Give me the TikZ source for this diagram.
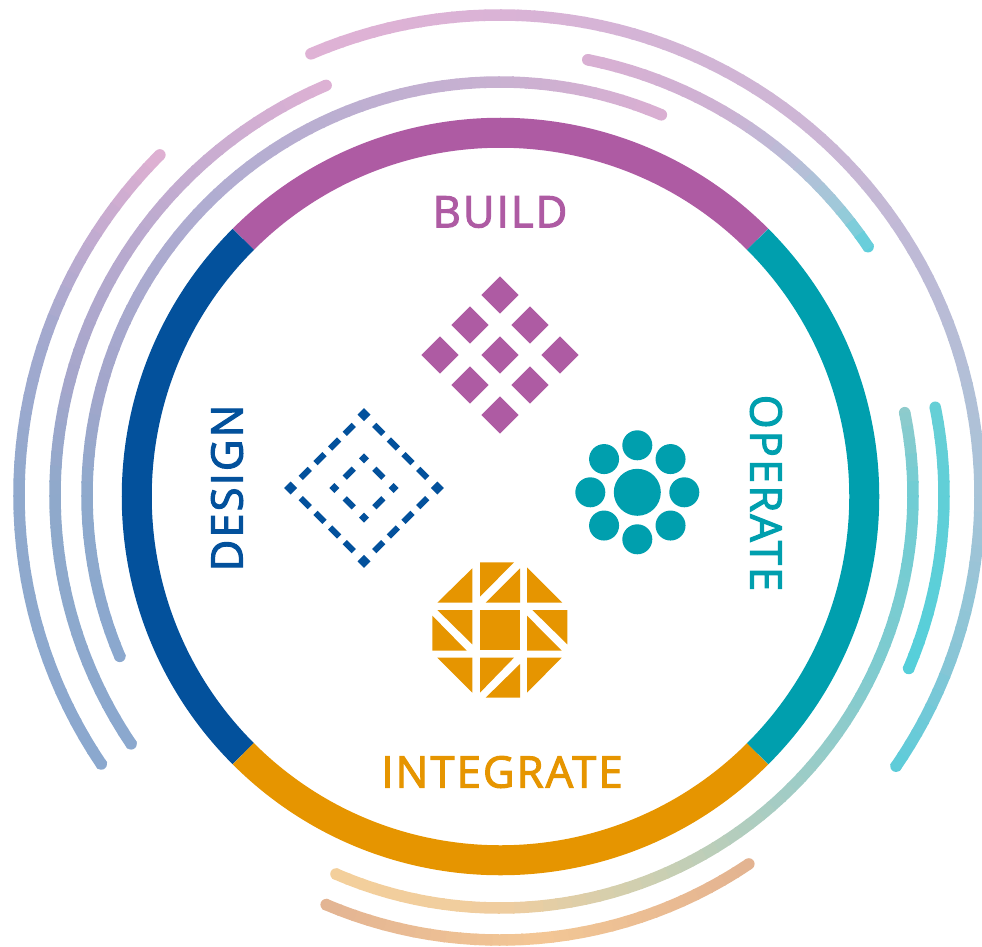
\documentclass[tikz,border=0pt]{standalone}
\usepackage{fontspec}
\newfontfamily\lblfont[FakeBold=2.5,LetterSpace=4.8]{Open Sans}
\definecolor{cbuild}{HTML}{AE5BA3}
\definecolor{cdesign}{HTML}{03519C}
\definecolor{cinteg}{HTML}{E69500}
\definecolor{coper}{HTML}{009FAE}
\newcommand{\gradseg}[5]{%
  \definecolor{gA}{HTML}{#4}\definecolor{gB}{HTML}{#5}%
  \pgfmathtruncatemacro{\nsteps}{max(1,ceil(abs(#3-#2)/2))}%
  \foreach \i in {1,...,\nsteps}{%
    \pgfmathsetmacro{\pp}{100*(\i-0.5)/\nsteps}%
    \pgfmathsetmacro{\aa}{#2+(#3-#2)*(\i-1)/\nsteps}%
    \pgfmathsetmacro{\bb}{#2+(#3-#2)*\i/\nsteps+0.25*sign(#3-#2)}%
    \colorlet{gT}{gB!\pp!gA}%
    \draw[gT,line width=11.5pt] ({500+#1*cos(\aa)},{495-#1*sin(\aa)}) arc[start angle=\aa,end angle=\bb,radius=#1pt];
  }%
}
\newcommand{\gradcap}[3]{%
  \definecolor{gA}{HTML}{#3}%
  \fill[gA] ({500+#1*cos(#2)},{495-#1*sin(#2)}) circle[radius=5.75pt];
}
\tikzset{
  ringarc/.style={line width=30pt},
  lbl/.style={inner sep=0pt,font=\lblfont\fontsize{43.5}{43.5}\selectfont},
  ddash/.style={cdesign,line width=6pt}
}
\begin{document}
\begin{tikzpicture}[x=1pt,y=-1pt]
\useasboundingbox (0,0) rectangle (982,947);
% main ring
\foreach \a/\b/\c in {45/135/cbuild,135/225/cdesign,225/315/cinteg,315/405/coper}{
  \draw[\c,ringarc] ({500.5+363.75*cos(\a)},{496.5-363.75*sin(\a)}) arc[start angle=\a,end angle=\b,radius=363.75pt];
}
% arc 1
\gradcap{480}{113.2}{DFB2D5}\gradcap{480}{-34.4}{5DCCD9}
\gradseg{480}{113.2}{90}{DFB2D5}{DAB3D6}
\gradseg{480}{90}{50}{DAB3D6}{CDB6D5}
\gradseg{480}{50}{25}{CDB6D5}{BBBBD6}
\gradseg{480}{25}{0}{BBBBD6}{A8C4D8}
\gradseg{480}{0}{-20}{A8C4D8}{88C5D6}
\gradseg{480}{-20}{-28}{88C5D6}{6ECAD8}
\gradseg{480}{-28}{-34.4}{6ECAD8}{5DCCD9}
% arc 2
\gradcap{444}{78.6}{D9B0D3}\gradcap{444}{34}{5ECFDB}
\gradseg{444}{78.6}{60}{D9B0D3}{CDB2D3}
\gradseg{444}{60}{48}{CDB2D3}{B8BDD7}
\gradseg{444}{48}{40}{B8BDD7}{9ECAD9}
\gradseg{444}{40}{34}{9ECAD9}{5ECFDB}
% arc 3
\gradcap{413}{67}{DAAFD2}\gradcap{413}{203}{8BA8CE}
\gradseg{413}{67}{90}{DAAFD2}{C9B1D1}
\gradseg{413}{90}{135}{C9B1D1}{B0ADD1}
\gradseg{413}{135}{165}{B0ADD1}{A3A6CB}
\gradseg{413}{165}{180}{A3A6CB}{8EA9CC}
\gradseg{413}{180}{203}{8EA9CC}{8BA8CE}
% arc 4
\gradcap{445}{113}{DDB1D4}\gradcap{445}{214}{8BA8CE}
\gradseg{445}{113}{135}{DDB1D4}{C4ACD0}
\gradseg{445}{135}{165}{C4ACD0}{A5A6CB}
\gradseg{445}{165}{180}{A5A6CB}{8FA9CB}
\gradseg{445}{180}{214}{8FA9CB}{8BA8CE}
% arc 5
\gradcap{481}{135}{DFB0D2}\gradcap{481}{214}{8BA8CE}
\gradseg{481}{135}{145}{DFB0D2}{C8ACD0}
\gradseg{481}{145}{160}{C8ACD0}{A4A9CE}
\gradseg{481}{160}{180}{A4A9CE}{90A9CD}
\gradseg{481}{180}{214}{90A9CD}{8BA8CE}
% arc 6
\gradcap{413}{11.5}{8ECBCC}\gradcap{413}{-113.4}{F3CF9B}
\gradseg{413}{11.5}{0}{8ECBCC}{70CDD4}
\gradseg{413}{0}{-25}{70CDD4}{7FCBCF}
\gradseg{413}{-25}{-45}{7FCBCF}{A0CCC6}
\gradseg{413}{-45}{-70}{A0CCC6}{CFCFB0}
\gradseg{413}{-70}{-90}{CFCFB0}{F0CD9F}
\gradseg{413}{-90}{-113.4}{F0CD9F}{F3CF9B}
% arc 7
\gradcap{444}{11.4}{66CFD6}\gradcap{444}{-23}{56CFDA}
\gradseg{444}{11.4}{-23}{66CFD6}{56CFDA}
% arc 8
\gradcap{445}{-56}{E3B391}\gradcap{445}{-113}{E3B493}
\gradseg{445}{-56}{-85}{E3B391}{F3C795}
\gradseg{445}{-85}{-113}{F3C795}{E3B493}
% labels
\node[lbl,text=cbuild] (build) at (500,212) {BUILD};
\node[lbl,text=cinteg] (integrate) at (502,772) {INTEGRATE};
\node[lbl,text=cdesign,rotate=90] (design) at (227,488) {DESIGN};
\node[lbl,text=coper,rotate=-90] (operate) at (766,493) {OPERATE};
% build icon
\foreach \x/\y in {500/295,470/325,530/325,440/355,500/355,560/355,470/385,530/385,500/415}{
  \fill[cbuild] (\x,\y-18.7) -- (\x+18.7,\y) -- (\x,\y+18.7) -- (\x-18.7,\y) -- cycle;
}
% operate icon
\fill[coper] (637.3,492.3) circle[radius=23.5pt];
\foreach \a in {0,45,...,315}{
  \fill[coper] ({637.3+47*cos(\a)},{492.3+47*sin(\a)}) circle[radius=15pt];
}
% design icon
\begin{scope}[shift={(364,488)}]
  \foreach \s/\t in {1/1,1/-1,-1/1,-1/-1}{
    \foreach \k in {1,2,3,4}{
      \pgfmathsetmacro{\cx}{\s*14.67*\k}
      \pgfmathsetmacro{\cy}{\t*(73.3-14.67*\k)}
      \draw[ddash] ({\cx-\s*4.5},{\cy-\t*-4.5}) -- ({\cx+\s*4.5},{\cy+\t*-4.5});
    }
    \draw[ddash] ({\s*14.8-\s*4.5},{\t*14.8+\t*4.5}) -- ({\s*14.8+\s*4.5},{\t*14.8-\t*4.5});
  }
  \foreach \x/\y in {0/-73.3,0/73.3,-73.3/0,73.3/0}{
    \fill[cdesign] (\x,\y-6.5) -- (\x+6.5,\y) -- (\x,\y+6.5) -- (\x-6.5,\y) -- cycle;
  }
  \foreach \x/\y in {0/-29.6,0/29.6,-29.6/0,29.6/0}{
    \fill[cdesign] (\x,\y-5) -- (\x+5,\y) -- (\x,\y+5) -- (\x-5,\y) -- cycle;
  }
\end{scope}
% integrate icon
\begin{scope}[shift={(420,550)},x=0.33333pt,y=-0.33333pt]
\fill[cinteg] (180,180) rectangle (300,300);
\fill[cinteg] (157,55) -- (157,158) -- (52,158) -- cycle;
\fill[cinteg] (180,37) -- (282,37) -- (180,140) -- cycle;
\fill[cinteg] (300,55) -- (300,158) -- (197,158) -- cycle;
\fill[cinteg] (321,52) -- (321,158) -- (427,158) -- cycle;
\fill[cinteg] (52,180) -- (157,180) -- (157,283) -- cycle;
\fill[cinteg] (37,197) -- (37,302) -- (140,302) -- cycle;
\fill[cinteg] (337,180) -- (442,180) -- (442,283) -- cycle;
\fill[cinteg] (321,197) -- (321,302) -- (425,302) -- cycle;
\fill[cinteg] (52,323) -- (157,323) -- (157,428) -- cycle;
\fill[cinteg] (180,323) -- (282,323) -- (180,428) -- cycle;
\fill[cinteg] (300,342) -- (300,443) -- (197,443) -- cycle;
\fill[cinteg] (321,323) -- (425,323) -- (321,428) -- cycle;
\end{scope}
\end{tikzpicture}
\end{document}
